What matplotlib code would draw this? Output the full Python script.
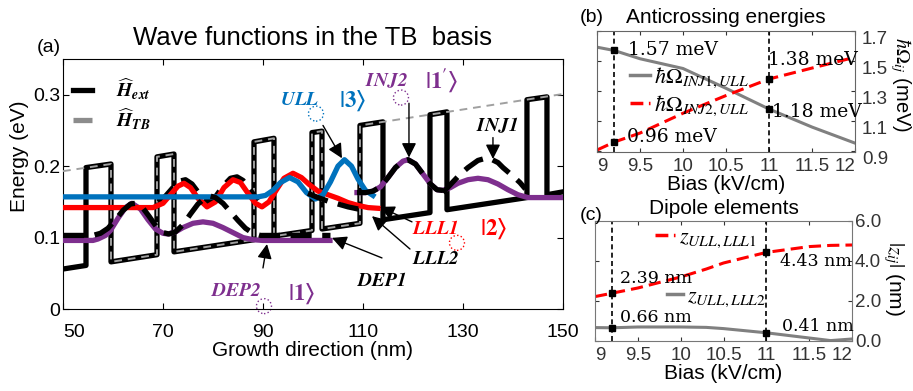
import matplotlib.pyplot as plt
from matplotlib.lines import Line2D
from matplotlib.patches import Ellipse

plt.rcParams['font.family'] = ['Liberation Sans', 'DejaVu Sans']
plt.rcParams['mathtext.fontset'] = 'stix'
plt.rcParams['xtick.direction'] = 'in'
plt.rcParams['ytick.direction'] = 'in'

BLUE = '#0072BD'
RED = '#FF0000'
PURPLE = '#7E2F8E'
GRAY = '#808080'

# ---- (a) conduction band edge, extended Hamiltonian
pot_x = [50, 54.6, 54.6, 59.6, 59.6, 68.8, 68.8, 72.2, 72.2, 88.2, 88.2, 92.2, 92.2,
         99.8, 99.8, 101.8, 101.8, 109.4, 109.4, 114.0, 114.0, 123.4, 123.4, 126.8,
         126.8, 142.8, 142.8, 146.8, 146.8, 150]
pot_e = [0.056, 0.061, 0.198, 0.203, 0.066, 0.076, 0.213, 0.217, 0.080, 0.097, 0.234,
         0.239, 0.102, 0.110, 0.247, 0.249, 0.112, 0.120, 0.257, 0.262, 0.125, 0.135,
         0.272, 0.276, 0.139, 0.156, 0.293, 0.297, 0.160, 0.164]

# tight-binding potential (flat barrier outside the module)
tb_x = [50, 59.6, 59.6, 68.8, 68.8, 72.2, 72.2, 88.2, 88.2, 92.2, 92.2, 99.8, 99.8,
        101.8, 101.8, 109.4, 109.4, 150]
tb_e = [0.193, 0.203, 0.066, 0.076, 0.213, 0.217, 0.080, 0.097, 0.234, 0.239, 0.102,
        0.110, 0.247, 0.249, 0.112, 0.120, 0.257, 0.301]

# TB wave functions |psi|^2 shifted by their energies
ull_x = [50, 89, 90.5, 92, 93.5, 95.3, 97, 98.7, 100.5, 102, 103.5, 105, 106.3,
         107.7, 109, 110.5, 112]
ull_e = [0.157, 0.157, 0.159, 0.166, 0.177, 0.184, 0.178, 0.163, 0.154, 0.160, 0.178,
         0.200, 0.209, 0.200, 0.182, 0.166, 0.159]

lll1_x = [50, 68, 70, 71.5, 73, 74.2, 75.5, 77, 78.8, 80.5, 82.2, 84, 85.5, 87, 88.5,
          89.8, 91.2, 92.7, 94.2, 96, 97.7, 99.3, 101, 103, 105, 107, 109, 111, 113]
lll1_e = [0.142, 0.142, 0.148, 0.160, 0.172, 0.176, 0.170, 0.155, 0.143, 0.150, 0.170,
          0.181, 0.177, 0.162, 0.148, 0.143, 0.150, 0.167, 0.183, 0.190, 0.184, 0.174,
          0.165, 0.160, 0.155, 0.149, 0.145, 0.142, 0.141]

dep2_x = [50, 56, 57, 58.5, 59.5, 61, 62.5, 63.8, 65.5, 67, 68.5, 70, 71, 72.5, 74,
          76, 78, 80, 82, 84, 86, 88, 90, 103.4]
dep2_e = [0.096, 0.096, 0.098, 0.103, 0.110, 0.127, 0.142, 0.148, 0.140, 0.125, 0.112,
          0.106, 0.105, 0.108, 0.114, 0.120, 0.122, 0.120, 0.114, 0.107, 0.100, 0.097,
          0.096, 0.096]

inj2_x = [108.8, 110.5, 112, 113.5, 115, 116.5, 118, 119, 120.5, 122, 123.5, 124.8,
          126, 127.5, 129, 131, 133, 135, 137, 139, 141, 143, 150]
inj2_e = [0.163, 0.163, 0.165, 0.171, 0.184, 0.198, 0.207, 0.209, 0.203, 0.189, 0.175,
          0.167, 0.166, 0.170, 0.176, 0.181, 0.183, 0.181, 0.175, 0.167, 0.160, 0.156,
          0.156]

# extended-Hamiltonian states (black dashed)
ext_dep_x = [50, 56, 57.5, 59, 60.5, 62, 63.5, 64.5, 65.8, 67.2, 68.6, 70, 71.2,
             72.5, 74, 75.5, 77, 78.5, 79.5, 80.5, 82, 83.5, 85, 86.5, 88, 89.5, 91,
             103.5]
ext_dep_e = [0.103, 0.103, 0.106, 0.113, 0.125, 0.138, 0.147, 0.148, 0.143, 0.130,
             0.116, 0.107, 0.105, 0.108, 0.118, 0.133, 0.147, 0.156, 0.158, 0.156,
             0.148, 0.136, 0.124, 0.113, 0.106, 0.103, 0.103, 0.103]
ext_lll1_x = [69, 70.5, 72, 73.3, 74.5, 75.8, 77.2, 78.8, 80.3, 82, 83.5, 84.8, 86,
              87.5, 89]
ext_lll1_e = [0.150, 0.158, 0.170, 0.179, 0.181, 0.175, 0.162, 0.150, 0.155, 0.172,
              0.183, 0.185, 0.180, 0.166, 0.152]
ext_lll2_x = [99, 101, 103, 105, 107, 109, 111]
ext_lll2_e = [0.162, 0.156, 0.151, 0.147, 0.143, 0.140, 0.138]
ext_inj2_x = [108.8, 110.5, 112, 113.5, 115, 116.5, 118, 119, 120.5, 122, 123.5,
              124.8, 126]
ext_inj2_e = [0.163, 0.163, 0.165, 0.171, 0.184, 0.198, 0.207, 0.209, 0.203, 0.189,
              0.175, 0.167, 0.166]
ext_inj1_x = [126, 128, 129.5, 131, 133, 135, 137, 138, 140, 141.4, 142.5]
ext_inj1_e = [0.163, 0.178, 0.189, 0.198, 0.208, 0.212, 0.205, 0.198, 0.186, 0.177,
              0.168]

# ---- (b) anticrossing energies vs bias
bias_b = [9, 9.2, 9.5, 10, 10.5, 11, 11.5, 12]
omega_inj1_ull = [1.592, 1.57, 1.515, 1.45, 1.318, 1.18, 1.06, 0.953]
omega_inj2_ull = [0.907, 0.96, 1.02, 1.152, 1.27, 1.38, 1.453, 1.525]
bias_marks = [9.2, 11.0]
omega_marks_gray = [1.57, 1.18]
omega_marks_red = [0.96, 1.38]

# ---- (c) dipole elements vs bias
bias_c = [9, 9.2, 9.5, 10, 10.3, 10.5, 11, 11.5, 11.75, 12]
z_lll1 = [2.22, 2.39, 2.65, 3.2, 3.6, 3.9, 4.43, 4.72, 4.78, 4.8]
z_lll2 = [0.67, 0.66, 0.70, 0.70, 0.68, 0.62, 0.41, 0.15, 0.02, 0.10]
z_marks_red = [2.39, 4.43]
z_marks_gray = [0.66, 0.41]

fig = plt.figure(figsize=(9.13, 3.91), dpi=100)

# ================= (a) =================
ax = fig.add_axes([0.0690, 0.2097, 0.5476, 0.6394])
dash = (0, (4, 2))
ax.plot(pot_x, pot_e, color='k', lw=3.8, solid_joinstyle='round', zorder=2)
ax.plot(tb_x, tb_e, color='#a0a0a0', lw=1.4, ls=(0, (4, 3)), zorder=3)
ax.plot(ext_lll1_x, ext_lll1_e, color='k', lw=3.8, ls=dash, zorder=3.5)
ax.plot(dep2_x, dep2_e, color=PURPLE, lw=3.8, zorder=4)
ax.plot(inj2_x, inj2_e, color=PURPLE, lw=3.8, zorder=4)
ax.plot(lll1_x, lll1_e, color=RED, lw=3.8, zorder=4)
ax.plot(ull_x, ull_e, color=BLUE, lw=3.8, zorder=4)
for xs, es in [(ext_dep_x, ext_dep_e), (ext_lll2_x, ext_lll2_e),
               (ext_inj2_x, ext_inj2_e), (ext_inj1_x, ext_inj1_e)]:
    ax.plot(xs, es, color='k', lw=3.8, ls=dash, zorder=5)

ax.set_xlim(50, 150)
ax.set_ylim(0, 0.35)
ax.set_xticks([50, 70, 90, 110, 130, 150])
ax.set_yticks([0, 0.1, 0.2, 0.3])
ax.set_yticklabels(['0', '0.1', '0.2', '0.3'])
ax.tick_params(axis='both', labelsize=14, length=4, top=True, right=True)
ax.tick_params(axis='x', pad=11)
ax.tick_params(axis='y', pad=2)
ax.xaxis.get_major_ticks()[0].label1.set_horizontalalignment('left')
ax.set_xlabel('Growth direction (nm)', fontsize=15, labelpad=0)
ax.set_ylabel('Energy (eV)', fontsize=15)
ax.yaxis.set_label_coords(-0.068, 0.61)
ax.set_title('Wave functions in the TB  basis', fontsize=18.5, pad=10)
fig.text(37 / 913, 1 - 48 / 391, '(a)', fontsize=14, ha='left', va='center')

ax.legend(handles=[Line2D([], [], color='k', lw=3.8),
                   Line2D([], [], color='#8c8c8c', lw=3.8, ls='--')],
          labels=[r'$\widehat{\mathbfit{H}}_{\mathbfit{ext}}$',
                  r'$\widehat{\mathbfit{H}}_{\mathbfit{TB}}$'],
          loc='upper left', bbox_to_anchor=(0.02, 0.93), frameon=False,
          fontsize=14, handlelength=1.0, handletextpad=1.2,
          labelspacing=0.25, borderpad=0, borderaxespad=0)

lab = dict(fontsize=14, ha='center', va='center')
ket = dict(fontsize=16.5, ha='center', va='center')
ax.text(97.4, 0.292, r'$\mathbfit{ULL}$', color=BLUE, **lab)
ax.text(108.0, 0.292, r'$\mathbf{|3\rangle}$', color=BLUE, **ket)
ax.text(114.6, 0.320, r'$\mathbfit{INJ2}$', color=PURPLE, **lab)
ax.text(125.8, 0.320, r"$\mathbf{|1'\rangle}$", color=PURPLE, **ket)
ax.text(136.8, 0.257, r'$\mathbfit{INJ1}$', color='k', **lab)
ax.text(84.6, 0.025, r'$\mathbfit{DEP2}$', color=PURPLE, **lab)
ax.text(97.8, 0.022, r'$\mathbf{|1\rangle}$', color=PURPLE, **ket)
ax.text(113.8, 0.039, r'$\mathbfit{DEP1}$', color='k', **lab)
ax.text(124.4, 0.070, r'$\mathbfit{LLL2}$', color='k', **lab)
ax.text(124.4, 0.112, r'$\mathbfit{LLL1}$', color=RED, **lab)
ax.text(136.2, 0.112, r'$\mathbf{|2\rangle}$', color=RED, **ket)

arrow = dict(arrowstyle='-|>', color='k', lw=1.0, mutation_scale=22, shrinkA=0,
             shrinkB=0)
for tip, tail in [((105.8, 0.211), (102.0, 0.257)),
                  ((119.2, 0.212), (119.2, 0.288)),
                  ((136.0, 0.210), (136.0, 0.240)),
                  ((90.8, 0.091), (90.0, 0.0575)),
                  ((103.8, 0.0996), (113.8, 0.0715)),
                  ((111.8, 0.130), (119.4, 0.084)),
                  ((113.4, 0.143), (119.8, 0.122))]:
    ax.annotate('', xy=tip, xytext=tail, arrowprops=arrow, zorder=6)

for (cx, cy), col in [((100.6, 0.2735), BLUE), ((117.6, 0.296), PURPLE),
                      ((90.2, 0.004), PURPLE), ((128.8, 0.0926), RED)]:
    ax.add_patch(Ellipse((cx, cy), 3.0, 0.021, fill=False, ls=':', lw=1.0, ec=col,
                         clip_on=False))

# ================= (b) =================
axb = fig.add_axes([0.6539, 0.6113, 0.2826, 0.3095])
axb.plot(bias_b, omega_inj1_ull, color=GRAY, lw=2.2)
axb.plot(bias_b, omega_inj2_ull, color=RED, lw=2.2, ls=(0, (4, 2)))
for xv in bias_marks:
    axb.axvline(xv, color='k', lw=1.2, ls=(0, (3, 2)))
axb.plot(bias_marks, omega_marks_gray, 's', color='k', ms=4)
axb.plot(bias_marks, omega_marks_red, 's', color='k', ms=4)
axb.set_xlim(9, 12)
axb.set_ylim(0.894, 1.689)
axb.set_xticks([9, 9.5, 10, 10.5, 11, 11.5, 12])
axb.set_xticklabels(['9', '9.5', '10', '10.5', '11', '11.5', '12'])
axb.set_yticks([0.9, 1.1, 1.3, 1.5, 1.7])
axb.tick_params(axis='both', labelsize=13.5, length=3, top=True, right=True,
                labelleft=False, labelright=True, colors='#333333')
axb.tick_params(axis='x', pad=4)
axb.tick_params(axis='y', pad=5)
for s in axb.spines.values():
    s.set_color('#666666')
axb.xaxis.get_major_ticks()[0].label1.set_horizontalalignment('left')
axb.xaxis.get_major_ticks()[-1].label1.set_horizontalalignment('right')
for t in axb.yaxis.get_major_ticks():
    t.label2.set_verticalalignment('top')
axb.set_xlabel('Bias (kV/cm)', fontsize=15, labelpad=0)
axb.set_title('Anticrossing energies', fontsize=15, pad=6)
fig.text(580 / 913, 1 - 17 / 391, '(b)', fontsize=14, ha='left', va='center')
fig.text(900 / 913, 1 - 85 / 391, r'$\hbar\Omega_{ij}$ (meV)', fontsize=14.5,
         rotation=270, ha='center', va='center')
ann_b = dict(fontsize=13.5, family='DejaVu Serif', ha='left', va='center')
axb.text(9.36, 1.57, '1.57 meV', **ann_b)
axb.text(9.35, 0.993, '0.96 meV', **ann_b)
axb.text(10.99, 1.504, '1.38 meV', **ann_b)
axb.text(11.03, 1.159, '1.18 meV', **ann_b)
axb.legend(handles=[Line2D([], [], color=GRAY, lw=2.5),
                    Line2D([], [], color=RED, lw=2.5, ls='--')],
           labels=[r'$\hbar\Omega_{INJ1,ULL}$', r'$\hbar\Omega_{INJ2,ULL}$'],
           loc='center left', bbox_to_anchor=(0.128, 0.5), frameon=False,
           fontsize=16, handlelength=0.9, handletextpad=0.2, labelspacing=0.15,
           borderpad=0, borderaxespad=0)

# ================= (c) =================
axc = fig.add_axes([0.6517, 0.1279, 0.2815, 0.3069])
axc.plot(bias_c, z_lll2, color=GRAY, lw=2.2)
axc.plot(bias_c, z_lll1, color=RED, lw=2.2, ls=(0, (4, 2)))
for xv in bias_marks:
    axc.axvline(xv, color='k', lw=1.2, ls=(0, (3, 2)))
axc.plot(bias_marks, z_marks_red, 's', color='k', ms=4)
axc.plot(bias_marks, z_marks_gray, 's', color='k', ms=4)
axc.set_xlim(9, 12)
axc.set_ylim(0, 6)
axc.set_xticks([9, 9.5, 10, 10.5, 11, 11.5, 12])
axc.set_xticklabels(['9', '9.5', '10', '10.5', '11', '11.5', '12'])
axc.set_yticks([0, 2, 4, 6])
axc.set_yticklabels(['0.0', '2.0', '4.0', '6.0'])
axc.tick_params(axis='both', labelsize=13.5, length=3, top=True, right=True,
                labelleft=False, labelright=True, colors='#333333')
axc.tick_params(axis='x', pad=4)
axc.tick_params(axis='y', pad=2)
for s in axc.spines.values():
    s.set_color('#777777')
axc.xaxis.get_major_ticks()[0].label1.set_horizontalalignment('left')
axc.xaxis.get_major_ticks()[-1].label1.set_horizontalalignment('right')
axc.set_xlabel('Bias (kV/cm)', fontsize=15, labelpad=0)
axc.set_title('Dipole elements', fontsize=15, pad=5)
fig.text(580 / 913, 1 - 215 / 391, '(c)', fontsize=14, ha='left', va='center')
fig.text(893 / 913, 1 - 278 / 391, r'$|z_{ij}|$ (nm)', fontsize=15,
         rotation=270, ha='center', va='center')
ann_c = dict(fontsize=12.5, family='DejaVu Serif', ha='left', va='center')
axc.text(9.29, 3.1, '2.39 nm', **ann_c)
axc.text(9.29, 1.15, '0.66 nm', **ann_c)
axc.text(11.16, 3.95, '4.43 nm', **ann_c)
axc.text(11.18, 0.7, '0.41 nm', **ann_c)
leg_c1 = axc.legend(handles=[Line2D([], [], color=RED, lw=2.5, ls='--')],
                    labels=[r'$z_{ULL,LLL1}$'], loc='center left',
                    bbox_to_anchor=(0.233, 0.858), frameon=False, fontsize=16,
                    handlelength=0.9, handletextpad=0.2, borderpad=0,
                    borderaxespad=0)
axc.add_artist(leg_c1)
axc.legend(handles=[Line2D([], [], color=GRAY, lw=2.5)],
           labels=[r'$z_{ULL,LLL2}$'], loc='center left',
           bbox_to_anchor=(0.28, 0.367), frameon=False, fontsize=16,
           handlelength=0.7, handletextpad=0.2, borderpad=0, borderaxespad=0)

fig.savefig('out.png', dpi=100)
